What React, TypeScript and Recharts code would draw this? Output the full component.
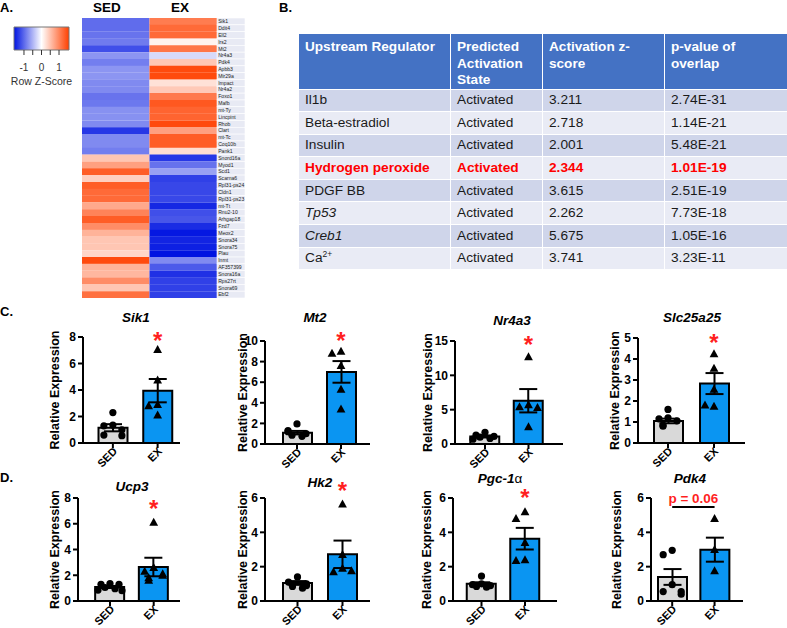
import React from "react";
import {
  ComposedChart,
  BarChart,
  Bar,
  Cell,
  XAxis,
  YAxis,
  Scatter,
  ErrorBar,
  ReferenceDot,
  ReferenceLine,
  ReferenceArea,
} from "recharts";

document.body.style.margin = "0";

const FONT = '"Liberation Sans", Arial, Helvetica, sans-serif';

// ---------- A. heatmap ----------
const genes = [
  "Sik1", "Ddit4", "Ell2", "Irs2", "Mt2", "Nr4a3", "Pdk4", "Apbb3", "Mir29a", "Impact",
  "Nr4a2", "Foxo1", "Mafb", "mt-Ty", "Lincpint", "Rhob", "Clart", "mt-Tc", "Coq10b", "Pank1",
  "Snord16a", "Myod1", "Scd1", "Scarna6", "Rpl31-ps24", "Cldn1", "Rpl31-ps23", "mt-Tt", "Rnu2-10", "Arhgap18",
  "Fzd7", "Meox2", "Snora34", "Snora75", "Plau", "Inmt", "AF357399", "Snora16a", "Rps27rt", "Snora69", "Ebf2",
];
const sedZ = [
  -1.0, -1.0, -0.95, -0.9, -1.2, -0.72, -0.88, -0.72, -0.72, -0.8,
  -0.8, -0.95, -0.92, -0.75, -0.75, -0.8, -1.36, -0.8, -0.8, -0.88,
  0.48, 0.8, 1.36, 0.4, 1.36, 1.25, 1.25, 0.72, 1.04, 1.36,
  0.96, 0.64, 0.48, 0.48, 0.35, 1.52, 0.64, 0.6, 0.96, 0.48, 1.2,
];
const exZ = [
  1.1, 1.25, 1.25, 0.1, 1.15, -0.25, 0.48, 1.52, 1.52, 0.25,
  0.45, 1.12, 1.4, 1.3, 1.3, 1.52, 0.8, 1.36, 1.36, 0.28,
  -1.36, -0.96, -0.64, -1.3, -1.25, -1.25, -1.25, -1.47, -1.2, -1.15,
  -1.44, -1.57, -1.49, -1.52, -1.6, -0.8, -1.12, -1.4, -1.3, -1.3, -1.3,
];
const zKeyTicks = [-1, -0.5, 0, 0.5, 1];
const zKeyRange = [-1.57, 1.57];

// ---------- B. upstream regulator table ----------
const tableHead = ["Upstream Regulator", "Predicted Activation State", "Activation z-score", "p-value of overlap"];
const regulators = ["Il1b", "Beta-estradiol", "Insulin", "Hydrogen peroxide", "PDGF BB", "Tp53", "Creb1", "Ca2+"];
const states = ["Activated", "Activated", "Activated", "Activated", "Activated", "Activated", "Activated", "Activated"];
const zScores = ["3.211", "2.718", "2.001", "2.344", "3.615", "2.262", "5.675", "3.741"];
const pValues = ["2.74E-31", "1.14E-21", "5.48E-21", "1.01E-19", "2.51E-19", "7.73E-18", "1.05E-16", "3.23E-11"];

// ---------- C / D. qPCR ----------
const groups = ["SED", "EX"];

const sik1Mean = [1.15, 3.95];
const sik1Sem = [0.27, 0.88];
const sik1Sed = [2.3, 1.35, 1.3, 1.0, 0.6, 0.55];
const sik1Ex = [7.05, 4.75, 2.9, 2.8, 2.1];

const mt2Mean = [1.1, 7.0];
const mt2Sem = [0.17, 1.05];
const mt2Sed = [1.95, 1.3, 1.2, 1.0, 0.85, 0.75];
const mt2Ex = [7.6, 9.0, 8.8, 5.3, 3.4];

const nr4a3Mean = [1.1, 6.3];
const nr4a3Sem = [0.15, 1.7];
const nr4a3Sed = [1.7, 1.3, 1.1, 1.0, 0.8, 0.7];
const nr4a3Ex = [12.7, 5.7, 5.4, 5.3, 2.5];

const slcMean = [1.05, 2.83];
const slcSem = [0.11, 0.5];
const slcSed = [1.6, 1.2, 1.15, 1.05, 0.85, 0.8];
const slcEx = [4.25, 3.55, 2.55, 1.75, 1.8];

const ucp3Mean = [1.09, 2.64];
const ucp3Sem = [0.08, 0.72];
const ucp3Sed = [1.35, 1.3, 1.3, 1.05, 0.95, 0.85, 0.8];
const ucp3Ex = [6.1, 2.6, 2.3, 2.1, 2.0, 1.8, 1.6];

const hk2Mean = [1.05, 2.72];
const hk2Sem = [0.11, 0.8];
const hk2Sed = [1.4, 1.1, 1.0, 0.9, 0.85, 0.75];
const hk2Ex = [5.65, 2.7, 1.9, 1.7, 1.75];

const pgcMean = [1.0, 3.63];
const pgcSem = [0.09, 0.63];
const pgcSed = [1.45, 1.0, 0.95, 0.9, 0.85, 0.8];
const pgcEx = [5.2, 4.8, 3.4, 2.4, 2.35];

const pdk4Mean = [1.4, 2.99];
const pdk4Sem = [0.46, 0.7];
const pdk4Sed = [2.95, 2.7, 0.95, 0.55, 0.55, 0.4];
const pdk4Ex = [4.8, 3.0, 1.75];

const ticks5 = [0, 1, 2, 3, 4, 5];
const ticks6 = [0, 2, 4, 6];
const ticks8 = [0, 2, 4, 6, 8];
const ticks10 = [0, 2, 4, 6, 8, 10];
const ticks15 = [0, 5, 10, 15];

const SED_FILL = "#D9D9D9";
const EX_FILL = "#0A95F2";
const RED = "#FF1F1F";

// heatmap colour scale, blue - white - red
const BLUE_END = [0, 20, 225];
const RED_END = [255, 64, 0];
const zColor = (z: number) => {
  const t = Math.min(1, Math.abs(z) / 1.6);
  const end = z < 0 ? BLUE_END : RED_END;
  const c = end.map((e) => Math.round(255 + (e - 255) * t));
  return `rgb(${c[0]},${c[1]},${c[2]})`;
};

const abs = (left: number, top: number): React.CSSProperties => ({ position: "absolute", left, top });

// ---- heatmap ----
const GeneTick = (props: any) => {
  const { x, y, payload } = props;
  const h = 280 / genes.length;
  return (
    <g>
      <rect x={x} y={y - h / 2} width={28} height={h} fill="#E8EAF4" stroke="#fff" strokeWidth={0.6} />
      <text x={x + 1.2} y={y} dy="0.35em" fontSize={5.1} fill="#222" fontFamily={FONT}>
        {payload.value}
      </text>
    </g>
  );
};

const Heatmap = () => {
  const rows = genes.map((gene) => ({ gene, sed: 1, ex: 1 }));
  return (
    <div style={abs(82, 18)}>
      <BarChart width={163} height={280} data={rows} layout="vertical" barCategoryGap={0}
        margin={{ top: 0, right: 0, bottom: 0, left: 0 }}>
        <XAxis type="number" hide domain={[0, 2]} />
        <YAxis type="category" dataKey="gene" orientation="right" width={28} axisLine={false}
          tickLine={false} tickSize={0} tickMargin={0} interval={0} tick={GeneTick} />
        <Bar dataKey="sed" stackId="h" isAnimationActive={false}>
          {sedZ.map((z, i) => <Cell key={i} fill={zColor(z)} />)}
        </Bar>
        <Bar dataKey="ex" stackId="h" isAnimationActive={false}>
          {exZ.map((z, i) => <Cell key={i} fill={zColor(z)} />)}
        </Bar>
      </BarChart>
    </div>
  );
};

const KeyTick = (props: any) => {
  const { x, y, payload } = props;
  const v = payload.value;
  if (!Number.isInteger(v)) return <g />;
  return (
    <text x={x} y={y} dy="0.71em" textAnchor="middle" fontSize={10} fill="#333" fontFamily={FONT}>
      {v}
    </text>
  );
};

const ZKey = () => (
  <div style={abs(0, 17)}>
    <ComposedChart width={85} height={80} data={zKeyTicks.map((z) => ({ z }))}
      margin={{ top: 10, right: 16, bottom: 0, left: 14 }}>
      <defs>
        <linearGradient id="zgrad" x1="0" y1="0" x2="1" y2="0">
          <stop offset="0%" stopColor={zColor(-1.6)} />
          <stop offset="50%" stopColor="#ffffff" />
          <stop offset="100%" stopColor={zColor(1.6)} />
        </linearGradient>
      </defs>
      <XAxis dataKey="z" type="number" domain={zKeyRange} allowDataOverflow ticks={zKeyTicks} interval={0}
        height={47} axisLine={false} tickLine={{ stroke: "#333" }} tickSize={5} tickMargin={9}
        tick={KeyTick}
        label={{
          content: () => (
            <text x={41.5} y={64} dy="0.35em" textAnchor="middle" fontSize={10.5} fill="#333"
              fontFamily={FONT}>Row Z-Score</text>
          ),
        }} />
      <YAxis type="number" hide domain={[0, 1]} allowDataOverflow />
      <ReferenceArea x1={zKeyRange[0]} x2={zKeyRange[1]} fill="url(#zgrad)" fillOpacity={1}
        stroke="#777" strokeWidth={1} />
    </ComposedChart>
  </div>
);

// ---- qPCR bar charts ----
const SPREAD = [0, -9, 9, -5, 5, -12, 12, 0];
const spread = (vals: number[], max: number, g: string) => {
  const placed: number[] = [];
  return vals.map((v) => {
    const k = placed.filter((p) => Math.abs(p - v) < max * 0.07).length;
    placed.push(v);
    return { g, v, k };
  });
};

const DotShape = (props: any) => {
  const { cx, cy, payload } = props;
  if (cx == null || cy == null) return <g />;
  return <circle cx={cx + SPREAD[payload.k % SPREAD.length]} cy={cy} r={3.6} fill="#000" />;
};

const TriShape = (props: any) => {
  const { cx, cy, payload } = props;
  if (cx == null || cy == null) return <g />;
  const x = cx + SPREAD[payload.k % SPREAD.length];
  return <polygon points={`${x},${cy - 4.6} ${x - 4.4},${cy + 3.4} ${x + 4.4},${cy + 3.4}`} fill="#000" />;
};

const StarShape = (props: any) => (
  <text x={props.cx} y={props.cy + 14} textAnchor="middle" fontSize={24} fontWeight={700} fill={RED}
    fontFamily={FONT}>*</text>
);

const GroupTick = (props: any) => {
  const { x, y, payload } = props;
  const tx = x + 5;
  const ty = y + 2;
  return (
    <text x={tx} y={ty} transform={`rotate(-45 ${tx} ${ty})`} textAnchor="end" fontSize={11}
      fontWeight={700} fill="#000" fontFamily={FONT}>
      {payload.value}
    </text>
  );
};

type Panel = {
  title: React.ReactNode;
  mean: number[];
  sem: number[];
  sed: number[];
  ex: number[];
  ticks: number[];
  star?: number;
  pLine?: number;
  axisX: number;
  sedC: number;
  exC: number;
  xEnd: number;
  yTop: number;
  yBot: number;
  labelX: number;
  titleX: number;
  titleY: number;
};

const panels: Panel[] = [
  { title: <i>Sik1</i>, mean: sik1Mean, sem: sik1Sem, sed: sik1Sed, ex: sik1Ex, ticks: ticks8, star: 8.15,
    axisX: 83, sedC: 113, exC: 158, xEnd: 180, yTop: 337, yBot: 443, labelX: 55, titleX: 136, titleY: 318 },
  { title: <i>Mt2</i>, mean: mt2Mean, sem: mt2Sem, sed: mt2Sed, ex: mt2Ex, ticks: ticks10, star: 10.6,
    axisX: 265, sedC: 297, exC: 341, xEnd: 370, yTop: 341, yBot: 444, labelX: 243, titleX: 315, titleY: 318 },
  { title: <i>Nr4a3</i>, mean: nr4a3Mean, sem: nr4a3Sem, sed: nr4a3Sed, ex: nr4a3Ex, ticks: ticks15, star: 15.3,
    axisX: 455, sedC: 485, exC: 528.5, xEnd: 563, yTop: 341, yBot: 444, labelX: 428, titleX: 512, titleY: 321 },
  { title: <i>Slc25a25</i>, mean: slcMean, sem: slcSem, sed: slcSed, ex: slcEx, ticks: ticks5, star: 5.05,
    axisX: 638, sedC: 668, exC: 714, xEnd: 745, yTop: 338, yBot: 443, labelX: 615, titleX: 692, titleY: 318 },
  { title: <i>Ucp3</i>, mean: ucp3Mean, sem: ucp3Sem, sed: ucp3Sed, ex: ucp3Ex, ticks: ticks8, star: 7.6,
    axisX: 78, sedC: 110, exC: 153.7, xEnd: 180, yTop: 498, yBot: 601, labelX: 55, titleX: 132, titleY: 487 },
  { title: <i>Hk2</i>, mean: hk2Mean, sem: hk2Sem, sed: hk2Sed, ex: hk2Ex, ticks: ticks6, star: 6.76,
    axisX: 265, sedC: 297.5, exC: 342.5, xEnd: 370, yTop: 498, yBot: 601, labelX: 243, titleX: 320, titleY: 483 },
  { title: <><i>Pgc-1</i><span style={{ fontStyle: "normal", fontWeight: 400 }}>α</span></>, mean: pgcMean,
    sem: pgcSem, sed: pgcSed, ex: pgcEx, ticks: ticks6, star: 6.35,
    axisX: 453, sedC: 481.5, exC: 525, xEnd: 557, yTop: 498, yBot: 601, labelX: 427, titleX: 500, titleY: 479 },
  { title: <i>Pdk4</i>, mean: pdk4Mean, sem: pdk4Sem, sed: pdk4Sed, ex: pdk4Ex, ticks: ticks6, pLine: 5.48,
    axisX: 651, sedC: 670.5, exC: 714, xEnd: 743, yTop: 498, yBot: 601, labelX: 617, titleX: 690, titleY: 479 },
];

const YW = 50;
const MT = 30;
const MB = 40;
const MR = 4;
const axisStyle = { stroke: "#000", strokeWidth: 2 };

const ExprChart = ({ p }: { p: Panel }) => {
  const max = p.ticks[p.ticks.length - 1];
  const plotW = p.xEnd - p.axisX;
  const plotH = p.yBot - p.yTop;
  const band = p.exC - p.sedC;
  const padL = Math.max(0, p.sedC - p.axisX - band / 2);
  const padR = Math.max(0, p.xEnd - p.exC - band / 2);
  const bars = groups.map((g, i) => ({ g, mean: p.mean[i], sem: p.sem[i] }));
  const sedPts = spread(p.sed, max, "SED");
  const exPts = spread(p.ex, max, "EX");
  const lx = YW - (p.axisX - p.labelX);
  const ly = MT + plotH / 2;

  return (
    <>
      <div style={{ ...abs(p.titleX - 60, p.titleY - 8), width: 120, textAlign: "center", lineHeight: "16px",
        fontSize: 13.5, fontWeight: 700 }}>
        {p.title}
      </div>
      <div style={abs(p.axisX - YW, p.yTop - MT)}>
        <ComposedChart width={YW + plotW + MR} height={MT + plotH + MB} data={bars}
          margin={{ top: MT, right: MR, bottom: 0, left: 0 }}>
          <XAxis dataKey="g" type="category" allowDuplicatedCategory={false} interval={0}
            padding={{ left: padL, right: padR }} height={MB} axisLine={axisStyle} tickLine={axisStyle}
            tickSize={5} tick={GroupTick} />
          <YAxis width={YW} type="number" domain={[0, max]} ticks={p.ticks} interval={0} allowDataOverflow
            axisLine={axisStyle} tickLine={axisStyle} tickSize={5} tickMargin={2}
            tick={{ fill: "#000", fontSize: 12, fontWeight: 700, fontFamily: FONT }}
            label={{
              content: () => (
                <text x={lx} y={ly} dy="0.35em" transform={`rotate(-90 ${lx} ${ly})`} textAnchor="middle"
                  fontSize={12.5} fontWeight={700} fill="#000" fontFamily={FONT}>Relative Expression</text>
              ),
            }} />
          <Bar dataKey="mean" barSize={29} stroke="#000" strokeWidth={2} isAnimationActive={false}>
            {bars.map((b, i) => <Cell key={b.g} fill={i === 0 ? SED_FILL : EX_FILL} />)}
            <ErrorBar dataKey="sem" width={9} stroke="#000" strokeWidth={2} direction="y"
              isAnimationActive={false} />
          </Bar>
          <Scatter data={sedPts} dataKey="v" shape={DotShape} isAnimationActive={false} />
          <Scatter data={exPts} dataKey="v" shape={TriShape} isAnimationActive={false} />
          {p.star != null && (
            <ReferenceDot x="EX" y={p.star} r={0} ifOverflow="visible" shape={StarShape} />
          )}
          {p.pLine != null && (
            <ReferenceLine segment={[{ x: "SED", y: p.pLine }, { x: "EX", y: p.pLine }]} stroke="#000"
              strokeWidth={2} ifOverflow="visible"
              label={{ value: "p = 0.06", position: "top", offset: 4, fill: RED, fontSize: 13.5,
                fontWeight: 700, fontFamily: FONT }} />
          )}
        </ComposedChart>
      </div>
    </>
  );
};

// ---- table ----
const colW = [152, 92, 122, 123];
const rowBg = ["#CFD5EA", "#E9EBF5"];

const regName = (name: string) => {
  if (name === "Ca2+") return <>Ca<sup style={{ fontSize: 8.5, verticalAlign: "5px", lineHeight: 0 }}>2+</sup></>;
  if (name === "Tp53" || name === "Creb1") return <i>{name}</i>;
  return name;
};

const RegTable = () => (
  <table style={{ ...abs(298, 33), width: 489, borderCollapse: "collapse", tableLayout: "fixed",
    fontFamily: FONT, fontSize: 13.7, color: "#1a1a1a" }}>
    <colgroup>
      {colW.map((w, i) => <col key={i} style={{ width: w }} />)}
    </colgroup>
    <thead>
      <tr style={{ height: 54 }}>
        {tableHead.map((h) => (
          <th key={h} style={{ background: "#4472C4", color: "#fff", textAlign: "left", verticalAlign: "top",
            padding: "5px 6px 0 6px", fontSize: 13.6, lineHeight: "16.5px", border: "1.5px solid #fff" }}>
            {h}
          </th>
        ))}
      </tr>
    </thead>
    <tbody>
      {regulators.map((r, i) => {
        const hot = r === "Hydrogen peroxide";
        const cell: React.CSSProperties = {
          background: rowBg[i % 2], padding: "0 6px", height: 21.6, border: "1.5px solid #fff",
          color: hot ? "#FF0000" : "#1a1a1a", fontWeight: hot ? 700 : 400, fontSize: 13.7,
          whiteSpace: "nowrap", lineHeight: "16px",
        };
        return (
          <tr key={r}>
            <td style={cell}>{regName(r)}</td>
            <td style={cell}>{states[i]}</td>
            <td style={cell}>{zScores[i]}</td>
            <td style={cell}>{pValues[i]}</td>
          </tr>
        );
      })}
    </tbody>
  </table>
);

const letter = (t: string, left: number, top: number) => (
  <div style={{ ...abs(left, top), fontSize: 13, fontWeight: 700, lineHeight: "14px" }}>{t}</div>
);

export default function App() {
  return (
    <div style={{ position: "relative", width: 787, height: 628, overflow: "hidden", background: "#fff",
      fontFamily: FONT, color: "#000" }}>
      {letter("A.", 0, 1)}
      {letter("B.", 279, 1)}
      {letter("C.", 0, 305)}
      {letter("D.", 0, 471)}

      <div style={{ ...abs(85, 0), width: 44, textAlign: "center", fontSize: 13.5, fontWeight: 700,
        lineHeight: "16px" }}>SED</div>
      <div style={{ ...abs(158, 0), width: 44, textAlign: "center", fontSize: 13.5, fontWeight: 700,
        lineHeight: "16px" }}>EX</div>
      <ZKey />
      <Heatmap />

      <RegTable />

      {panels.map((p, i) => <ExprChart key={i} p={p} />)}
    </div>
  );
}
